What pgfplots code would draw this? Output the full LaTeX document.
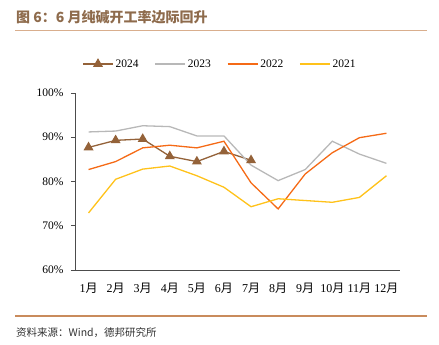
\documentclass[border=0pt]{standalone}
\usepackage{pgfplots}
\pgfplotsset{compat=1.18}
\usepackage{fontspec}
\setmainfont{Liberation Serif}
\newfontfamily\cjk{Noto Sans CJK SC}
\definecolor{c24}{HTML}{946239}
\definecolor{c23}{HTML}{B8B8B8}
\definecolor{c22}{HTML}{F56A16}
\definecolor{c21}{HTML}{FFC21A}
\definecolor{titlec}{HTML}{8E6B4C}
\definecolor{rulec}{HTML}{C98B5C}
\begin{document}
\begin{tikzpicture}[x=1pt,y=1pt]
\useasboundingbox (0,0) rectangle (439,345);
\node[anchor=west,font=\cjk\bfseries\fontsize{14}{14}\selectfont,text=titlec,inner sep=0] at (16,328) {图 6：6 月纯碱开工率边际回升};
\draw[color=rulec!70,line width=0.8pt] (15,315) -- (427,315);
\draw[color=rulec,line width=1.2pt] (15,29) -- (427,29);
\node[anchor=west,font=\cjk\fontsize{10.5}{10.5}\selectfont,text=black!80,inner sep=0] at (16,12) {资料来源：Wind，德邦研究所};
\begin{axis}[
  at={(75pt,75pt)}, anchor=south west,
  scale only axis, width=325pt, height=177pt,
  xmin=0.5, xmax=12.5, ymin=60, ymax=100,
  axis x line=bottom, axis y line=left,
  axis line style={-, draw=black!70, line width=0.8pt},
  xtick={1,...,12},
  xticklabel={\pgfmathprintnumber{\tick}{\cjk 月}},
  ytick={60,70,...,100},
  yticklabel={\pgfmathprintnumber{\tick}\%},
  /pgf/number format/assume math mode=true,
  tick label style={font=\fontsize{11.5}{11.5}\selectfont, text=black},
  xticklabel style={font=\fontsize{12}{12}\selectfont, yshift=-6pt},
  x tick style={draw=none},
  y tick style={draw=black!70, line width=0.8pt},
  tick align=outside, major tick length=4pt,
  yticklabel style={xshift=-4pt},
  legend columns=4,
  legend style={at={(0.446,1.164)}, anchor=center, draw=none, fill=none,
    font=\fontsize{11.5}{11.5}\selectfont, /tikz/every even column/.append style={column sep=14pt}},
  legend image code/.code={\draw[mark repeat=2,mark phase=2,#1] plot coordinates {(0pt,0pt)(15pt,0pt)(30pt,0pt)};},
]
\addplot[c24, line width=1.3pt, mark=triangle*, mark size=4.5pt, mark options={fill=c24, draw=c24}] coordinates {
(1,87.7)(2,89.3)(3,89.6)(4,85.7)(5,84.5)(6,86.8)(7,84.8)};
\addlegendentry{2024}
\addplot[c23, line width=1.3pt, mark=none] coordinates {
(1,91.2)(2,91.4)(3,92.6)(4,92.4)(5,90.3)(6,90.3)(7,83.7)(8,80.2)(9,82.7)(10,89.1)(11,86.2)(12,84.1)};
\addlegendentry{2023}
\addplot[c22, line width=1.3pt, mark=none] coordinates {
(1,82.7)(2,84.5)(3,87.6)(4,88.2)(5,87.6)(6,89.1)(7,79.7)(8,73.8)(9,81.7)(10,86.5)(11,89.9)(12,90.9)};
\addlegendentry{2022}
\addplot[c21, line width=1.3pt, mark=none] coordinates {
(1,72.9)(2,80.5)(3,82.8)(4,83.5)(5,81.3)(6,78.7)(7,74.3)(8,76.1)(9,75.7)(10,75.3)(11,76.4)(12,81.3)};
\addlegendentry{2021}
\end{axis}
\end{tikzpicture}
\end{document}
